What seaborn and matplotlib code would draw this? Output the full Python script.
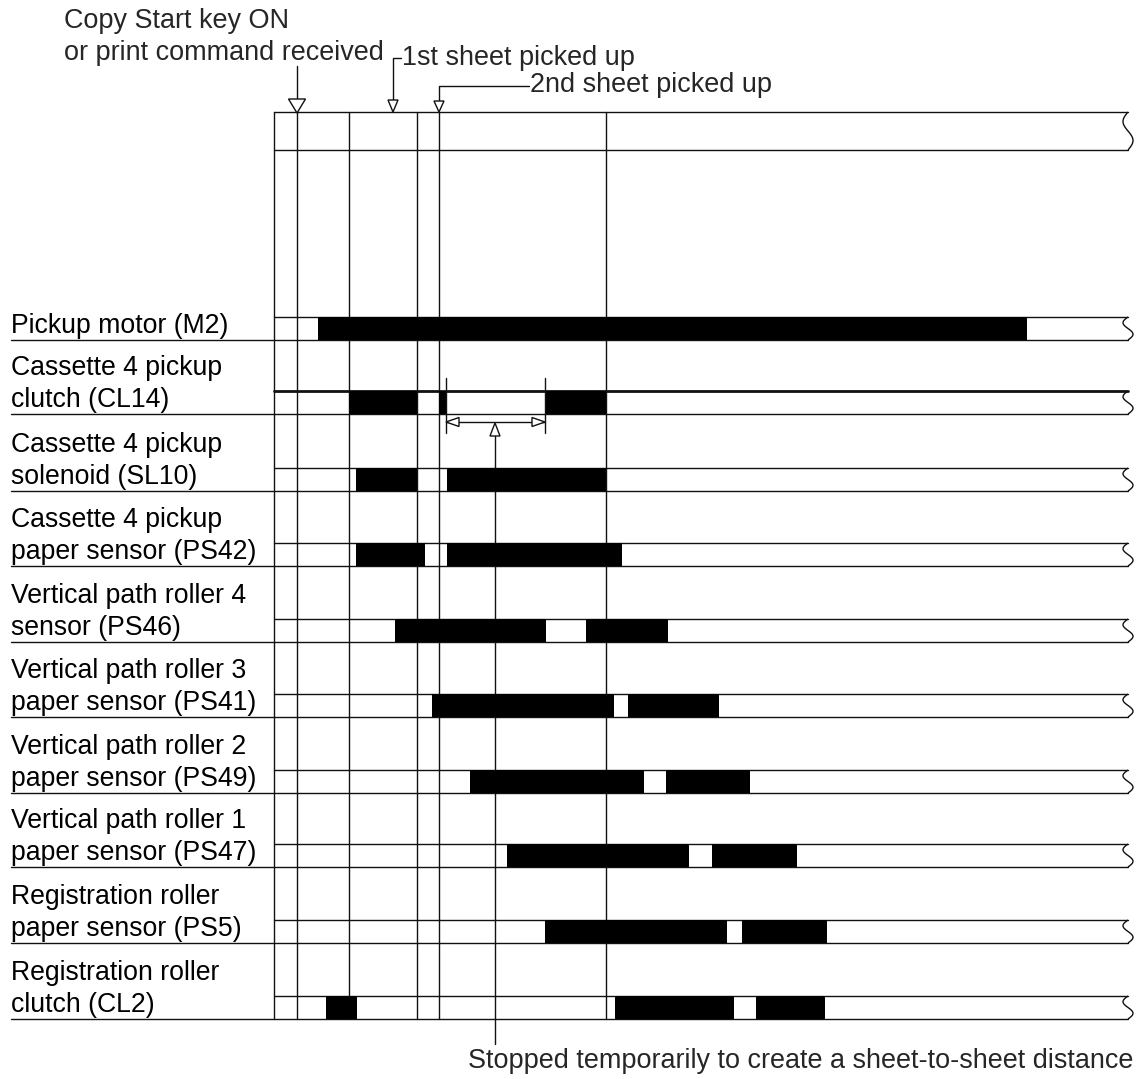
import numpy as np
import matplotlib
matplotlib.use("Agg")
import matplotlib.pyplot as plt
from matplotlib.patches import Polygon
import seaborn as sns

sns.set_theme(style="white")
plt.rcParams['font.family'] = ['Liberation Sans', 'DejaVu Sans']

# ---------------- data ----------------
labels = [
    ["Pickup motor (M2)"],
    ["Cassette 4 pickup", "clutch (CL14)"],
    ["Cassette 4 pickup", "solenoid (SL10)"],
    ["Cassette 4 pickup", "paper sensor (PS42)"],
    ["Vertical path roller 4", "sensor (PS46)"],
    ["Vertical path roller 3", "paper sensor (PS41)"],
    ["Vertical path roller 2", "paper sensor (PS49)"],
    ["Vertical path roller 1", "paper sensor (PS47)"],
    ["Registration roller", "paper sensor (PS5)"],
    ["Registration roller", "clutch (CL2)"],
]
# ON intervals (start, end) along the time axis
on_m2 = [(318, 1027)]
on_cl14 = [(349, 417), (439, 446), (545, 606)]
on_sl10 = [(356, 417), (447, 606)]
on_ps42 = [(356, 425), (447, 622)]
on_ps46 = [(395, 546), (586, 668)]
on_ps41 = [(432, 614), (628, 719)]
on_ps49 = [(470, 644), (666, 750)]
on_ps47 = [(507, 689), (712, 797)]
on_ps5 = [(545, 727), (742, 827)]
on_cl2 = [(326, 357), (615, 734), (756, 825)]
intervals = [on_m2, on_cl14, on_sl10, on_ps42, on_ps46,
             on_ps41, on_ps49, on_ps47, on_ps5, on_cl2]

# timing marks (vertical reference lines)
t_marks = [297, 349, 417, 439, 606]
t_start = 297          # copy start
t_first = 393          # 1st sheet picked up
t_second = 439         # 2nd sheet picked up
t_stop = (446, 545)    # temporary stop interval
t_stop_mark = 495

top_note1 = "Copy Start key ON"
top_note2 = "or print command received"
note_first = "1st sheet picked up"
note_second = "2nd sheet picked up"
note_stop = "Stopped temporarily to create a sheet-to-sheet distance"

# ---------------- layout ----------------
W, H = 1141, 1079
fig = plt.figure(figsize=(W / 100, H / 100), dpi=100)
ax = fig.add_axes([0, 0, 1, 1])
ax.set_xlim(0, W)
ax.set_ylim(H, 0)
ax.axis('off')

x0 = 274        # left edge of the chart area
x_end = 1128    # right (broken) edge
row_tops = [317, 391, 468, 543, 619, 694, 770, 844, 920, 996]
row_h = 23
lab_x = 11
lc = '#111111'
lw = 1.0
fs_lab = 19.2
fs_note = 19.45


def squiggle(y_top, y_bot):
    t = np.linspace(0, 1, 60)
    xs = x_end - 5 * np.sin(2 * np.pi * t)
    ys = y_top + (y_bot - y_top) * t
    ax.plot(xs, ys, color=lc, lw=lw, solid_capstyle='butt')


# top box
ax.plot([x0, x_end], [112, 112], color=lc, lw=lw)
ax.plot([x0, x_end], [150, 150], color=lc, lw=lw)
squiggle(112, 150)

bottom = row_tops[-1] + row_h
# vertical lines
for xv in [x0] + t_marks:
    ax.plot([xv, xv], [112, bottom], color=lc, lw=lw, zorder=1)

# rows
for i, (lab, ivs, yt) in enumerate(zip(labels, intervals, row_tops)):
    yb = yt + row_h
    ax.plot([x0, x_end], [yt, yt], color=lc, lw=2.0 if i == 1 else lw, zorder=2)
    ax.plot([lab_x, x_end], [yb, yb], color=lc, lw=lw, zorder=2)
    squiggle(yt, yb)
    ax.broken_barh([(a, b - a) for a, b in ivs], (yt, row_h),
                   facecolors='black', edgecolor='none', zorder=3)
    n = len(lab)
    for k, line in enumerate(lab):
        ax.text(lab_x, yb - 7 - 32 * (n - 1 - k), line, fontsize=fs_lab,
                ha='left', va='baseline', color='black')


def open_tri(x, y_tip, y_base, hw):
    pts = [(x, y_tip), (x - hw, y_base), (x + hw, y_base)]
    ax.add_patch(Polygon(pts, closed=True, facecolor='white',
                         edgecolor=lc, lw=lw, zorder=5))


# top annotations
ax.text(64, 28, top_note1, fontsize=fs_note, ha='left', va='baseline')
ax.text(64, 60, top_note2, fontsize=fs_note, ha='left', va='baseline')
ax.plot([t_start, t_start], [66, 99], color=lc, lw=lw)
open_tri(t_start, 113, 99, 8.5)

ax.plot([t_first + 8, t_first, t_first], [58, 58, 100], color=lc, lw=lw)
open_tri(t_first, 112, 100, 5)
ax.text(t_first + 9, 65, note_first, fontsize=fs_note, ha='left', va='baseline')

ax.plot([t_second + 90, t_second, t_second], [86, 86, 101], color=lc, lw=lw)
open_tri(t_second, 112, 101, 5)
ax.text(t_second + 91, 92, note_second, fontsize=fs_note, ha='left', va='baseline')

# stop interval dimension
for xv in t_stop:
    ax.plot([xv, xv], [378, 433], color=lc, lw=lw, zorder=4)
ax.plot([t_stop[0], t_stop[1]], [422, 422], color=lc, lw=lw, zorder=4)
for tip, base in [(t_stop[0], t_stop[0] + 13), (t_stop[1], t_stop[1] - 13)]:
    ax.add_patch(Polygon([(tip, 422), (base, 417.5), (base, 426.5)], closed=True,
                         facecolor='white', edgecolor=lc, lw=lw, zorder=5))
ax.plot([t_stop_mark, t_stop_mark], [436, 1044], color=lc, lw=lw, zorder=2)
open_tri(t_stop_mark, 423, 436, 5)
ax.text(468, 1068, note_stop, fontsize=fs_note, ha='left', va='baseline')

fig.savefig('out.png', dpi=100, facecolor='white')
